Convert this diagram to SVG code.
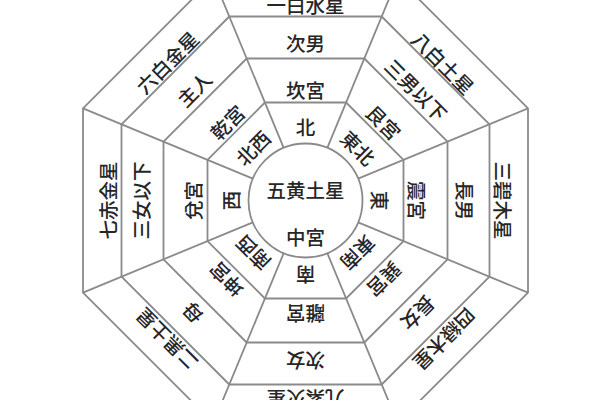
<svg xmlns="http://www.w3.org/2000/svg" width="600" height="400" viewBox="0 0 600 400">
<style>
.ln{fill:none;stroke:#8a8a8a;stroke-width:1.8;stroke-linejoin:miter}
.t{font-family:"Noto Sans CJK JP","Noto Sans CJK SC",sans-serif;font-size:19.5px;font-weight:500;fill:#262626;text-anchor:middle;dominant-baseline:central}
</style>
<defs>
<line id="spoke" x1="21.81" y1="-52.66" x2="92.16" y2="-222.5"/>
</defs>
<rect width="600" height="400" fill="#fff"/>
<g transform="translate(305.5,200.5)">
<g id="grid" class="ln">
<circle r="57"/>
<polygon points="-40.59,-98 40.59,-98 98,-40.59 98,40.59 40.59,98 -40.59,98 -98,40.59 -98,-40.59"/>
<polygon points="-58.82,-142 58.82,-142 142,-58.82 142,58.82 58.82,142 -58.82,142 -142,58.82 -142,-58.82"/>
<polygon points="-76.22,-184 76.22,-184 184,-76.22 184,76.22 76.22,184 -76.22,184 -184,76.22 -184,-76.22"/>
<polygon points="-92.16,-222.5 92.16,-222.5 222.5,-92.16 222.5,92.16 92.16,222.5 -92.16,222.5 -222.5,92.16 -222.5,-92.16"/>
<use href="#spoke"/>
<use href="#spoke" transform="rotate(45)"/>
<use href="#spoke" transform="rotate(90)"/>
<use href="#spoke" transform="rotate(135)"/>
<use href="#spoke" transform="rotate(180)"/>
<use href="#spoke" transform="rotate(225)"/>
<use href="#spoke" transform="rotate(270)"/>
<use href="#spoke" transform="rotate(315)"/>
</g>
<g id="center" class="t">
<text x="0" y="-11">五黄土星</text>
<text x="0" y="36">中宮</text>
</g>
<g id="north" class="t">
<text transform="rotate(0) translate(0,-74)">北</text>
<text transform="rotate(0) translate(0,-111)">坎宮</text>
<text transform="rotate(0) translate(0,-158)">次男</text>
<text transform="rotate(0) translate(0,-196)">一白水星</text>
</g>
<g id="northeast" class="t">
<text transform="rotate(45) translate(0,-75)">東北</text>
<text transform="rotate(45) translate(0,-111)">艮宮</text>
<text transform="rotate(45) translate(0,-157)">三男以下</text>
<text transform="rotate(45) translate(0,-195)">八白土星</text>
</g>
<g id="east" class="t">
<text transform="rotate(90) translate(0,-75)">東</text>
<text transform="rotate(90) translate(0,-112)">震宮</text>
<text transform="rotate(90) translate(0,-160)">長男</text>
<text transform="rotate(90) translate(0,-198)">三碧木星</text>
</g>
<g id="southeast" class="t">
<text transform="rotate(135) translate(0,-75)">東南</text>
<text transform="rotate(135) translate(0,-112)">巽宮</text>
<text transform="rotate(135) translate(0,-160)">長女</text>
<text transform="rotate(135) translate(0,-197)">四緑木星</text>
</g>
<g id="south" class="t">
<text transform="rotate(180) translate(0,-75)">南</text>
<text transform="rotate(180) translate(0,-114)">離宮</text>
<text transform="rotate(180) translate(0,-161)">次女</text>
<text transform="rotate(180) translate(0,-199)">九紫火星</text>
</g>
<g id="southwest" class="t">
<text transform="rotate(225) translate(0,-75)">南西</text>
<text transform="rotate(225) translate(0,-112)">坤宮</text>
<text transform="rotate(225) translate(0,-160)">母</text>
<text transform="rotate(225) translate(0,-197)">二黒土星</text>
</g>
<g id="west" class="t">
<text transform="rotate(270) translate(0,-75)">西</text>
<text transform="rotate(270) translate(0,-113)">兌宮</text>
<text transform="rotate(270) translate(0,-165)">三女以下</text>
<text transform="rotate(270) translate(0,-198)">七赤金星</text>
</g>
<g id="northwest" class="t">
<text transform="rotate(315) translate(0,-75)">北西</text>
<text transform="rotate(315) translate(0,-111)">乾宮</text>
<text transform="rotate(315) translate(0,-158)">主人</text>
<text transform="rotate(315) translate(0,-196)">六白金星</text>
</g>
</g>
</svg>
